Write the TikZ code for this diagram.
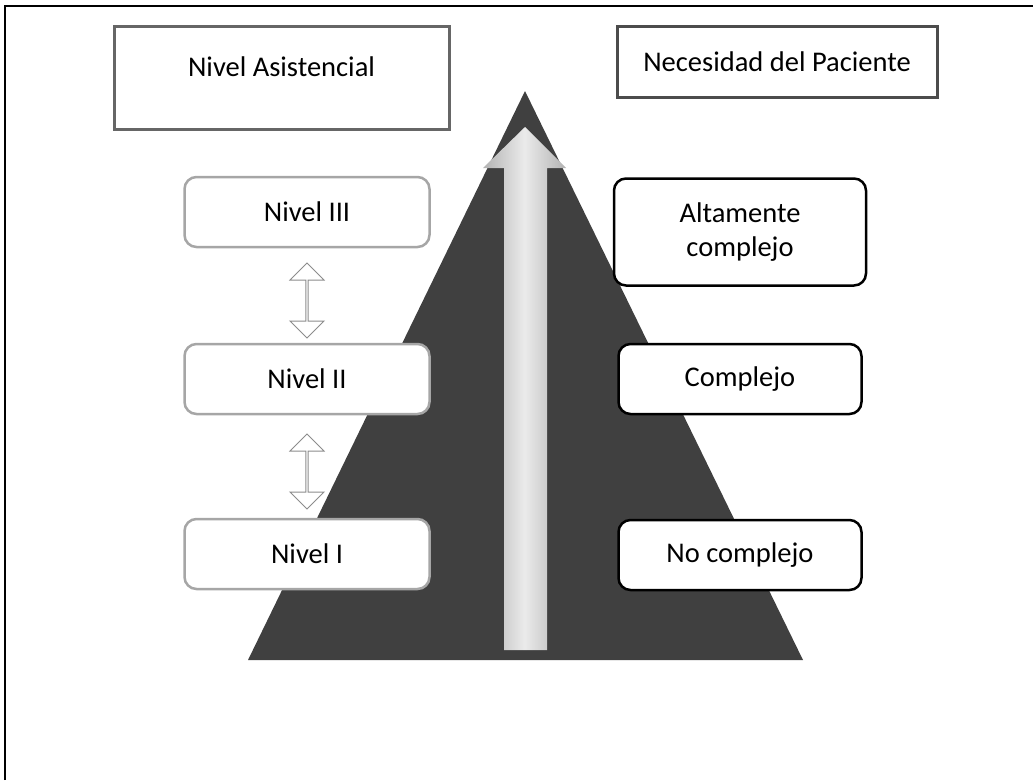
\documentclass[tikz,border=0pt]{standalone}
\usepackage{fontspec}
\setmainfont{Carlito}
\usetikzlibrary{calc,shapes.arrows}

\tikzset{
  titlebox/.style={draw=black!60, line width=3pt, minimum width=335pt, minimum height=103pt},
  levelbox/.style={draw=black!35, line width=2.5pt, rounded corners=12pt, fill=white, minimum width=245pt, minimum height=70pt},
  needbox/.style={draw=black, line width=2.5pt, rounded corners=12pt, fill=white, minimum width=243pt, minimum height=70pt, align=center},
  updown/.style={double arrow, draw=black!45, fill=white, line width=1pt, rotate=90, minimum height=75pt, minimum width=34pt, double arrow head extend=7pt, inner sep=0pt}
}

\begin{document}
\begin{tikzpicture}[x=1pt, y=-1pt, font=\fontsize{28.5}{34}\selectfont, node distance=170pt]
        \useasboundingbox (0,0) rectangle (1033,780);
        \draw[line width=2pt] (5,780) -- (5,6) -- (1033,6);

        \fill[black!75] (525,91) -- (803,660) -- (248,660) -- cycle;
        \shade[left color=black!30, right color=black!30, middle color=black!8] (525,127) -- (566,168) -- (547,168) -- (547,650) -- (504,650) -- (504,168) -- (483,168) -- cycle;

        \node[titlebox, text height=20pt, text depth=23pt] (asist) at (281.5,77.5) {Nivel Asistencial};
        \node[titlebox, draw=black!70, minimum width=320pt, minimum height=71pt] (necesidad) at (777,61.5) {Necesidad del Paciente};

        \node[levelbox] (n3) at (307,212) {Nivel III};
        \node[levelbox] (n2) [below of = n3, node distance=167pt] {Nivel II};
        \node[levelbox] (n1) [below of = n2, node distance=175pt] {Nivel I};

        \node[needbox] (comp) [right of = n2, node distance=433pt] {Complejo};
        \node[needbox] (nocomp) [below of = comp, node distance=176pt] {No complejo};
        \node[needbox, minimum width=252pt, minimum height=107pt] (alto) [above of = comp, node distance=147pt] {Altamente\\complejo};

        \node[updown, xshift=-5pt] (a32) at ($(n3.south)!0.5!(n2.north)$) {};
        \node[updown, xshift=-5pt] (a21) at ($(n2.south)!0.5!(n1.north)$) {};
\end{tikzpicture}
\end{document}
